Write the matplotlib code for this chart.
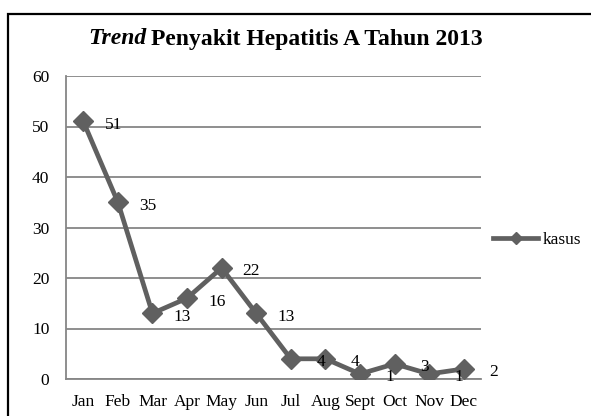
import matplotlib
matplotlib.use("Agg")
import matplotlib.pyplot as plt
from matplotlib.patches import Rectangle

months = ["Jan", "Feb", "Mar", "Apr", "May", "Jun", "Jul", "Aug", "Sept", "Oct", "Nov", "Dec"]
kasus = [51, 35, 13, 16, 22, 13, 4, 4, 1, 3, 1, 2]
yticks = [0, 10, 20, 30, 40, 50, 60]

plt.rcParams['font.family'] = ['Liberation Serif', 'DejaVu Serif']

W, H = 591, 416
fig = plt.figure(figsize=(W / 100, H / 100), dpi=100)
ax = fig.add_axes([66 / W, 1 - 379 / H, (481 - 66) / W, (379 - 76) / H])

line_color = '#606060'
grid_color = '#868686'
x = list(range(len(months)))
ax.plot(x, kasus, color=line_color, lw=3.4, marker='D', markersize=10.5,
        markerfacecolor=line_color, markeredgecolor=line_color, label='kasus',
        solid_joinstyle='miter', zorder=3)

for xi, v in zip(x, kasus):
    ax.annotate(str(v), (xi, v), xytext=(21.5, -2.5), textcoords='offset points',
                ha='center', va='center', fontsize=12.5, color='black', zorder=4)

ax.set_xlim(-0.5, len(months) - 0.5)
ax.set_ylim(0, 60)
ax.set_yticks(yticks)
ax.set_xticks(x)
ax.set_xticklabels(months)
ax.tick_params(axis='both', length=0, labelsize=12.5, colors='black')
ax.tick_params(axis='y', pad=12)
ax.tick_params(axis='x', pad=11)
ax.grid(axis='y', color=grid_color, lw=1.3)
ax.set_axisbelow(True)
for s in ['top', 'right']:
    ax.spines[s].set_visible(False)
ax.spines['left'].set_color(grid_color)
ax.spines['left'].set_linewidth(1.3)
ax.spines['bottom'].set_color(grid_color)
ax.spines['bottom'].set_linewidth(1.3)

ty = 1 - 39 / H
t1 = fig.text(88 / W, ty, "Trend", fontsize=17, fontweight='bold',
              fontstyle='italic', va='center', ha='left')
fig.canvas.draw()
bb = t1.get_window_extent()
fig.text((bb.x1 + 5) / W, ty, "Penyakit Hepatitis A Tahun 2013", fontsize=17,
         fontweight='bold', va='center', ha='left')

leg = fig.legend(loc='center left', bbox_to_anchor=(486 / W, 1 - 240 / H),
                 frameon=False, fontsize=12.5, handlelength=2.6, handletextpad=0.25,
                 markerscale=0.55, borderaxespad=0)

fig.patches.append(Rectangle((8 / W, -0.05), 1.0, 1 - 14 / H + 0.05, transform=fig.transFigure,
                             fill=False, edgecolor='black', lw=1.6, figure=fig))

fig.savefig('out.png', dpi=100)
